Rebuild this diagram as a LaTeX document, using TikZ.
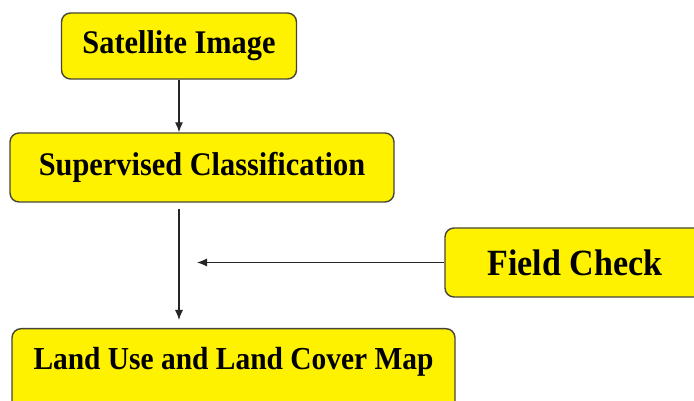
\documentclass[tikz,border=0pt]{standalone}
\usepackage{fontspec}
\setmainfont{Liberation Serif}[FakeStretch=0.92]
\usepackage{tikz}
\usetikzlibrary{arrows.meta}
\definecolor{boxline}{HTML}{45453A}

\tikzset{
  stage/.style={draw=boxline, fill=yellow, line width=1.4pt, rounded corners=9pt,
    inner sep=0pt, text=black, font=\bfseries\fontsize{33}{38}\selectfont},
  link/.style={-{Latex[length=10pt,width=8pt]}, line width=1.1pt, draw=black!85}
}

\begin{document}
\begin{tikzpicture}[x=1pt, y=1pt]
  \useasboundingbox (0,0) rectangle (694,401);
  \clip (0,0) rectangle (694,401);
  \node[stage, minimum width=235pt, minimum height=66pt] (sat) at (179,355) {Satellite Image};
  \node[stage, minimum width=384pt, minimum height=69pt] (sup) at (202,233.5) {Supervised Classification};
  \node[stage, minimum width=443pt, anchor=north, text height=41pt, text depth=51pt,
    font=\bfseries\fontsize{32}{38}\selectfont] (map) at (233.5,73) {Land Use and Land Cover Map};
  \node[stage, minimum width=260pt, minimum height=69pt, font=\bfseries\fontsize{37}{42}\selectfont] (field) at (575,138.5) {Field Check};
  \coordinate (join) at (197,138.5);
  \path
  (sat.south) edge [link] (sat.south |- sup.north)
  (sat.south |- sup.south) edge [link, shorten <=6pt, shorten >=8pt] (sat.south |- map.north)
  (field.west) edge [link] (join)
          ;
\end{tikzpicture}
\end{document}
